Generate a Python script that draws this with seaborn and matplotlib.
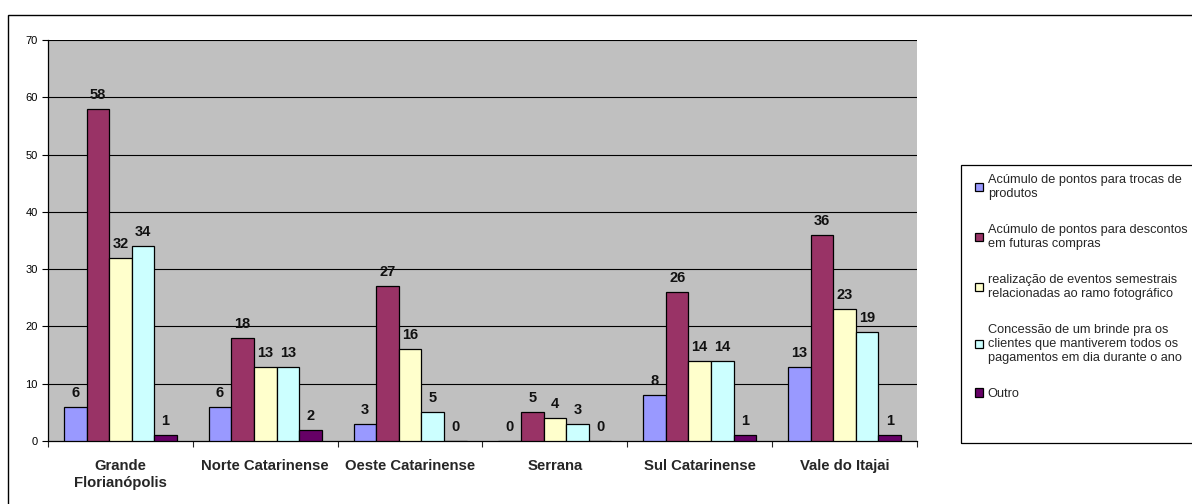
import numpy as np
import pandas as pd
import matplotlib.pyplot as plt
import seaborn as sns
from matplotlib.patches import Rectangle

regions = ["Grande\nFlorianópolis", "Norte Catarinense", "Oeste Catarinense",
           "Serrana", "Sul Catarinense", "Vale do Itajai"]
series = [
    "Acúmulo de pontos para trocas de\nprodutos",
    "Acúmulo de pontos para descontos\nem futuras compras",
    "realização de eventos semestrais\nrelacionadas ao ramo fotográfico",
    "Concessão de um brinde pra os\nclientes que mantiverem todos os\npagamentos em dia durante o ano",
    "Outro",
]
trocas = [6, 6, 3, 0, 8, 13]
descontos = [58, 18, 27, 5, 26, 36]
eventos = [32, 13, 16, 4, 14, 23]
brinde = [34, 13, 5, 3, 14, 19]
outro = [1, 2, 0, 0, 1, 1]
colors = ["#9999FF", "#993366", "#FFFFCC", "#CCFFFF", "#660066"]

rows = []
for name, vals in zip(series, [trocas, descontos, eventos, brinde, outro]):
    for reg, v in zip(regions, vals):
        rows.append({"regiao": reg, "serie": name, "valor": v})
df = pd.DataFrame(rows)

sns.set_style("white")
plt.rcParams["font.family"] = ["Liberation Sans", "DejaVu Sans"]

fig = plt.figure(figsize=(11.92, 5.04), dpi=100)
ax = fig.add_axes([48 / 1192, 63 / 504, 869 / 1192, 401 / 504])
ax.set_facecolor("#C0C0C0")

sns.barplot(data=df, x="regiao", y="valor", hue="serie", order=regions,
            hue_order=series, palette=colors, width=0.78, edgecolor="black",
            linewidth=0.9, saturation=1, ax=ax, zorder=3)

for c in ax.containers:
    ax.bar_label(c, fmt="%d", padding=5, fontsize=10.5, fontweight="bold",
                 color="#111111")

ax.set_ylim(0, 70)
ax.set_xlim(-0.5, 5.5)
ax.set_yticks(range(0, 71, 10))
for y in range(10, 71, 10):
    ax.axhline(y, color="black", lw=0.8, zorder=1)
ax.set_xlabel("")
ax.set_ylabel("")
ax.tick_params(axis="y", direction="out", length=4, width=0.8, labelsize=8,
               colors="black", left=True)
ax.tick_params(axis="x", length=0, labelsize=10.7, pad=13)
for lab in ax.get_xticklabels():
    lab.set_fontweight("bold")
    lab.set_linespacing(1.25)
ax.set_xticks(np.arange(-0.5, 6, 1), minor=True)
ax.tick_params(axis="x", which="minor", direction="out", length=4, width=0.8,
               bottom=True)
for s in ["top", "right"]:
    ax.spines[s].set_visible(False)
for s in ["left", "bottom"]:
    ax.spines[s].set_color("black")
    ax.spines[s].set_linewidth(0.9)

handles, labels = ax.get_legend_handles_labels()
ax.legend_.remove()
leg = fig.legend(handles, labels, loc="upper left",
                 bbox_to_anchor=(975 / 1192, 1 - 174 / 504), fontsize=9.2,
                 frameon=False, handlelength=0.65, handleheight=0.65,
                 handletextpad=0.35, labelspacing=1.85, borderpad=0,
                 borderaxespad=0)
for t in leg.get_texts():
    t.set_linespacing(1.25)

# legend box
fig.patches.append(Rectangle((961 / 1192, 1 - 443 / 504), 0.3, 278 / 504,
                             transform=fig.transFigure, fill=False,
                             edgecolor="black", lw=0.9))
# outer chart border
fig.patches.append(Rectangle((8 / 1192, -0.1), 1.2, 1.1 - 15 / 504,
                             transform=fig.transFigure, fill=False,
                             edgecolor="black", lw=1))

fig.savefig("out.png", dpi=100)
